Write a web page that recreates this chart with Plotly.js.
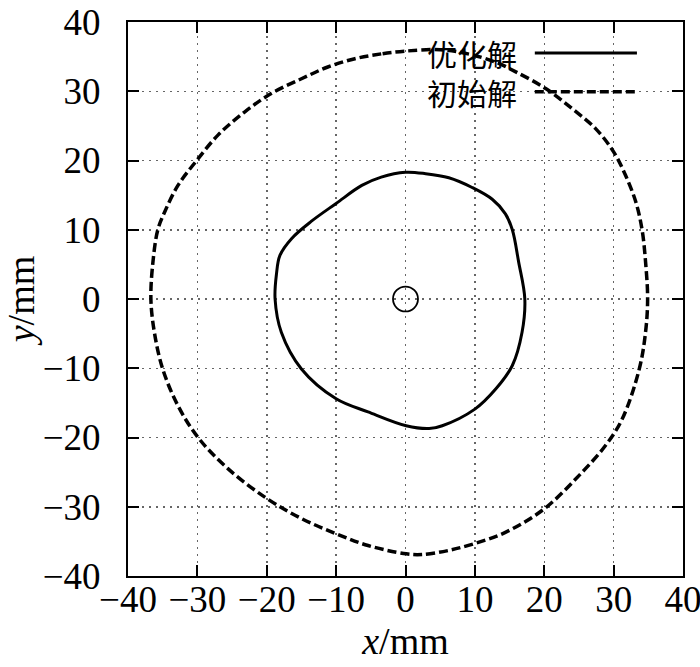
<!DOCTYPE html>
<html>
<head>
<meta charset="utf-8">
<script src="https://cdn.plot.ly/plotly-3.0.1.min.js"></script>
<style>html,body{margin:0;padding:0;background:#fff;}#chart{width:700px;height:667px;}</style>
</head>
<body>
<div id="chart"></div>
<script>
// Initial solution (dashed)
const initX = [0, -3.5, -7.3, -11.2, -15, -19.3, -23.2, -27, -30.1, -32.8, -34.7, -35.7, -36.4, -36.7, -36.2, -35, -32.8, -29.9, -25.6, -20, -15, -10, -5.4, 0.1, 2.4, 6.25, 10, 14.4, 20, 25, 28.8, 31.25, 33.7, 34.6, 34.9, 34.6, 34.1, 33.2, 31.7, 30, 27.4, 24, 20.2, 15.9, 13, 9, 5, 0];
const initY = [35.8, 35.4, 34.7, 33.5, 31.8, 29.7, 27, 23.7, 20, 16.4, 12.6, 10, 5.4, 0, -4.8, -10.1, -15.4, -20, -24.5, -28.8, -31.7, -33.9, -35.6, -36.8, -36.9, -36.3, -35.3, -33.7, -30.3, -25.5, -21.2, -17.3, -10.1, -4.8, 0, 5.4, 10, 14, 17.9, 21.25, 24.6, 27.5, 30.4, 32.8, 34.2, 35.4, 36.0, 35.8];
// Optimized solution (solid)
const optX = [0, -3.5, -6.3, -10, -13.6, -16.4, -18.1, -18.6, -18.8, -17.9, -15, -10, -5.4, 0.1, 3.4, 5.3, 10, 13, 15.4, 16.8, 17.2, 16.3, 15.4, 14.4, 12.5, 9.6, 6.25, 2.9, 0];
const optY = [18.3, 17.6, 16.4, 13.8, 11.2, 8.75, 6.3, 3.6, 0, -4.8, -10.1, -14.4, -16.3, -18.3, -18.7, -18.3, -15.9, -13, -9.6, -4.8, 0, 5.4, 10, 12.3, 14.4, 16.1, 17.5, 18.1, 18.3];
// Central small circle
const holeCenter = [0, 0];
const holeRadius = 1.8;
// Ticks and labels
const tickVals = [-40, -30, -20, -10, 0, 10, 20, 30, 40];
const seriesNames = ['优化解', '初始解'];
const xTitle = '<i>x</i>/mm';
const yTitle = '<i>y</i>/mm';

const serif = 'Liberation Serif, Times New Roman, serif';
const cjk = 'Noto Sans CJK SC, sans-serif';

const traces = [
  {x: optX, y: optY, mode: 'lines', name: seriesNames[0], showlegend: false,
   line: {color: '#000', width: 3, shape: 'spline', smoothing: 1}},
  {x: initX, y: initY, mode: 'lines', name: seriesNames[1], showlegend: false,
   line: {color: '#000', width: 3.5, dash: '9px,4px', shape: 'spline', smoothing: 1}}
];

const axisCommon = {
  range: [-40, 40], tickvals: tickVals, ticks: 'inside', ticklen: 11, tickwidth: 2, tickcolor: '#000',
  showline: true, linewidth: 2, linecolor: '#000', mirror: 'ticks',
  showgrid: true, gridcolor: '#666', gridwidth: 1.5, griddash: '2px,5px',
  zeroline: false, tickfont: {family: serif, size: 37, color: '#000'},
  ticklabeloverflow: 'allow'
};

const legendRows = [0.944, 0.874];
const layout = {
  width: 700, height: 667,
  margin: {l: 128, r: 17, t: 22, b: 91},
  paper_bgcolor: '#fff', plot_bgcolor: '#fff',
  showlegend: false,
  xaxis: Object.assign({}, axisCommon, {
    title: {text: xTitle, font: {family: serif, size: 38, color: '#000'}, standoff: 8},
    ticklabelstandoff: -10
  }),
  yaxis: Object.assign({}, axisCommon, {
    title: {text: yTitle, font: {family: serif, size: 38, color: '#000'}, standoff: 2},
    ticklabelstandoff: 18
  }),
  shapes: [
    {type: 'circle', xref: 'x', yref: 'y',
     x0: holeCenter[0] - holeRadius, x1: holeCenter[0] + holeRadius,
     y0: holeCenter[1] - holeRadius, y1: holeCenter[1] + holeRadius,
     line: {color: '#000', width: 1.8}},
    {type: 'line', xref: 'paper', yref: 'paper', x0: 0.733, x1: 0.917, y0: legendRows[0], y1: legendRows[0],
     line: {color: '#000', width: 3}},
    {type: 'line', xref: 'paper', yref: 'paper', x0: 0.733, x1: 0.917, y0: legendRows[1], y1: legendRows[1],
     line: {color: '#000', width: 3.5, dash: '9px,4px'}}
  ],
  annotations: seriesNames.map((n, i) => ({
    text: n, xref: 'paper', yref: 'paper', x: 0.705, y: legendRows[i],
    xanchor: 'right', yanchor: 'middle', showarrow: false,
    font: {family: cjk, size: 30, color: '#000'}
  }))
};

Plotly.newPlot('chart', traces, layout, {staticPlot: true, displayModeBar: false});
</script>
</body>
</html>
